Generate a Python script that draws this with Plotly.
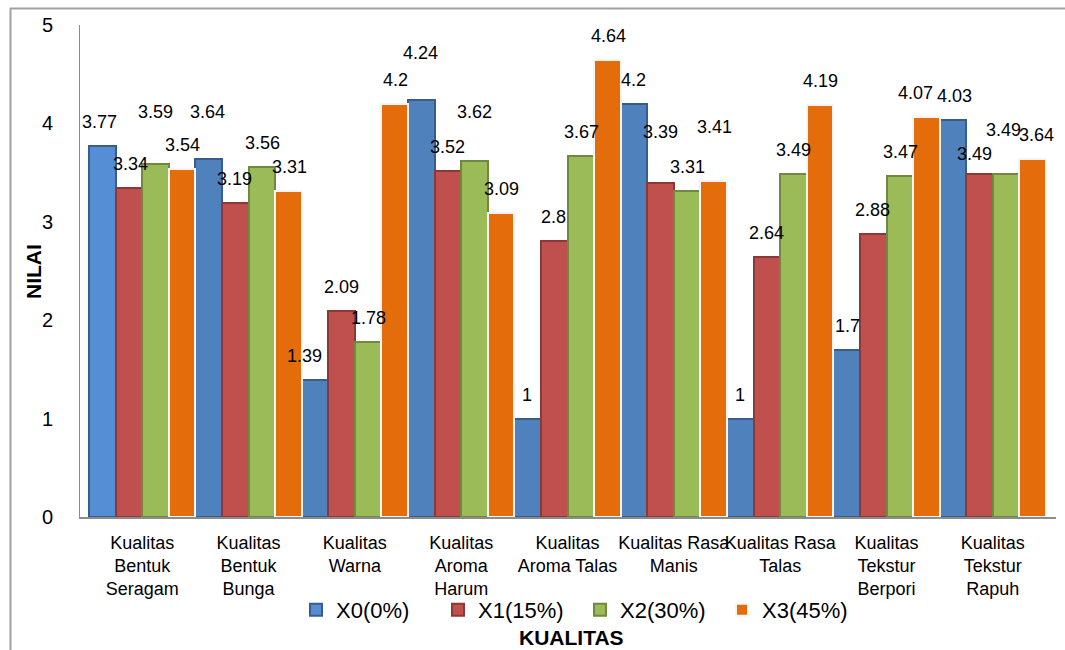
import plotly.graph_objects as go

# ---------------- data ----------------
categories = [
    "Kualitas Bentuk Seragam", "Kualitas Bentuk Bunga", "Kualitas Warna",
    "Kualitas Aroma Harum", "Kualitas Aroma Talas", "Kualitas Rasa Manis",
    "Kualitas Rasa Talas", "Kualitas Tekstur Berpori", "Kualitas Tekstur Rapuh",
]
tick_labels = [
    "Kualitas<br>Bentuk<br>Seragam", "Kualitas<br>Bentuk<br>Bunga", "Kualitas<br>Warna",
    "Kualitas<br>Aroma<br>Harum", "Kualitas<br>Aroma Talas", "Kualitas Rasa<br>Manis",
    "Kualitas Rasa<br>Talas", "Kualitas<br>Tekstur<br>Berpori", "Kualitas<br>Tekstur<br>Rapuh",
]
series_names = ["X0(0%)", "X1(15%)", "X2(30%)", "X3(45%)"]
x0 = [3.77, 3.64, 1.39, 4.24, 1, 4.2, 1, 1.7, 4.03]
x1 = [3.34, 3.19, 2.09, 3.52, 2.8, 3.39, 2.64, 2.88, 3.49]
x2 = [3.59, 3.56, 1.78, 3.62, 3.67, 3.31, 3.49, 3.47, 3.49]
x3 = [3.54, 3.31, 4.2, 3.09, 4.64, 3.41, 4.19, 4.07, 3.64]
series_values = [x0, x1, x2, x3]
y_ticks = [0, 1, 2, 3, 4, 5]

# ---------------- styling ----------------
face_colors = ["#4F81BD", "#C0504D", "#9BBB59", "#E46C0A"]
edge_colors = ["#385D8A", "#8C3836", "#71893F", "#F5F5F5"]
NARROW = "Liberation Sans Narrow, Arial Narrow, Liberation Sans, Arial, sans-serif"
BOLD = "Liberation Sans, Arial, sans-serif"

# label offsets (pixels): extra raise & horizontal nudge per [series][category]
label_raise = [
    [0, 23, 0, 23, 0, 0, 0, 0, 0],
    [0, 0, 0, 0, 0, 27, 0, 0, -4],
    [28, 0, 0, 25, 0, 0, 0, 0, 20],
    [0, 0, 0, 0, 0, 30, 0, 0, 0],
]
label_nudge = [
    [-2, 0, -10, 0, 0, 0, 0, 2, 2],
    [2, 0, 0, 0, 0, 0, 0, 0, -5],
    [0, 0, 0, 0, 0, 0, 0, 0, -3],
    [0, 0, 0, 0, 0, 0, 0, -12, 3],
]

L, R, T, B = 80, 9, 25, 133
W, H = 1065, 650
plot_w = W - L - R
plot_h = H - T - B
bar_px = plot_w / len(categories) / len(series_names)

fig = go.Figure()
for i, (name, vals) in enumerate(zip(series_names, series_values)):
    colors = [face_colors[i]] * len(vals)
    if i == 0:
        colors[0] = "#558ED5"
    fig.add_trace(go.Bar(
        name=name, x=categories, y=vals,
        marker=dict(color=colors, line=dict(color=edge_colors[i], width=2)),
        hoverinfo="x+y",
    ))
    for j, v in enumerate(vals):
        fig.add_annotation(
            x=categories[j], y=v, xref="x", yref="y",
            text=f"{v:g}", showarrow=False,
            xshift=(i - 1.5) * bar_px + label_nudge[i][j],
            yshift=24 + label_raise[i][j],
            yanchor="middle", xanchor="center",
            font=dict(family=NARROW, size=18, color="#000000"),
        )

def px_to_paper_x(px):
    return (px - L) / plot_w

def px_to_paper_y(py):
    return (H - B - py) / plot_h

# outer chart border (top and left)
fig.add_shape(type="line", xref="paper", yref="paper",
              x0=px_to_paper_x(10), x1=px_to_paper_x(1065),
              y0=px_to_paper_y(8.5), y1=px_to_paper_y(8.5),
              line=dict(color="#A0A0A0", width=2))
fig.add_shape(type="line", xref="paper", yref="paper",
              x0=px_to_paper_x(10.5), x1=px_to_paper_x(10.5),
              y0=px_to_paper_y(8), y1=px_to_paper_y(650),
              line=dict(color="#A0A0A0", width=2))

fig.add_annotation(
    text="<b>KUALITAS</b>", xref="paper", yref="paper",
    x=px_to_paper_x(571), y=px_to_paper_y(637), showarrow=False,
    xanchor="center", yanchor="middle",
    font=dict(family=BOLD, size=21, color="#000000"),
)
fig.add_annotation(
    text="<b>NILAI</b>", xref="paper", yref="paper",
    x=px_to_paper_x(33), y=px_to_paper_y(272), showarrow=False,
    xanchor="center", yanchor="middle", textangle=-90,
    font=dict(family=BOLD, size=21, color="#000000"),
)

fig.update_layout(
    width=W, height=H,
    margin=dict(l=L, r=R, t=T, b=B, pad=0),
    paper_bgcolor="#FFFFFF", plot_bgcolor="#FFFFFF",
    barmode="group", bargap=0, bargroupgap=0,
    showlegend=True,
    legend=dict(
        orientation="h", x=px_to_paper_x(296), y=px_to_paper_y(610),
        xanchor="left", yanchor="middle",
        font=dict(family=NARROW, size=22, color="#000000"),
        itemwidth=30, entrywidth=97, entrywidthmode="pixels",
        bgcolor="rgba(0,0,0,0)",
    ),
    xaxis=dict(
        tickmode="array", tickvals=categories, ticktext=tick_labels,
        tickangle=0,
        tickfont=dict(family=NARROW, size=18, color="#000000"),
        showline=True, linecolor="#8C8C8C", linewidth=2,
        showgrid=False, ticks="", zeroline=False,
        ticklabelstandoff=8,
    ),
    yaxis=dict(
        range=[0, 5], tickmode="array", tickvals=y_ticks,
        tickfont=dict(family=NARROW, size=20, color="#000000"),
        showline=True, linecolor="#8C8C8C", linewidth=1,
        showgrid=False, ticks="", zeroline=False,
        ticklabelstandoff=22,
    ),
)

fig.write_html("out.html")
